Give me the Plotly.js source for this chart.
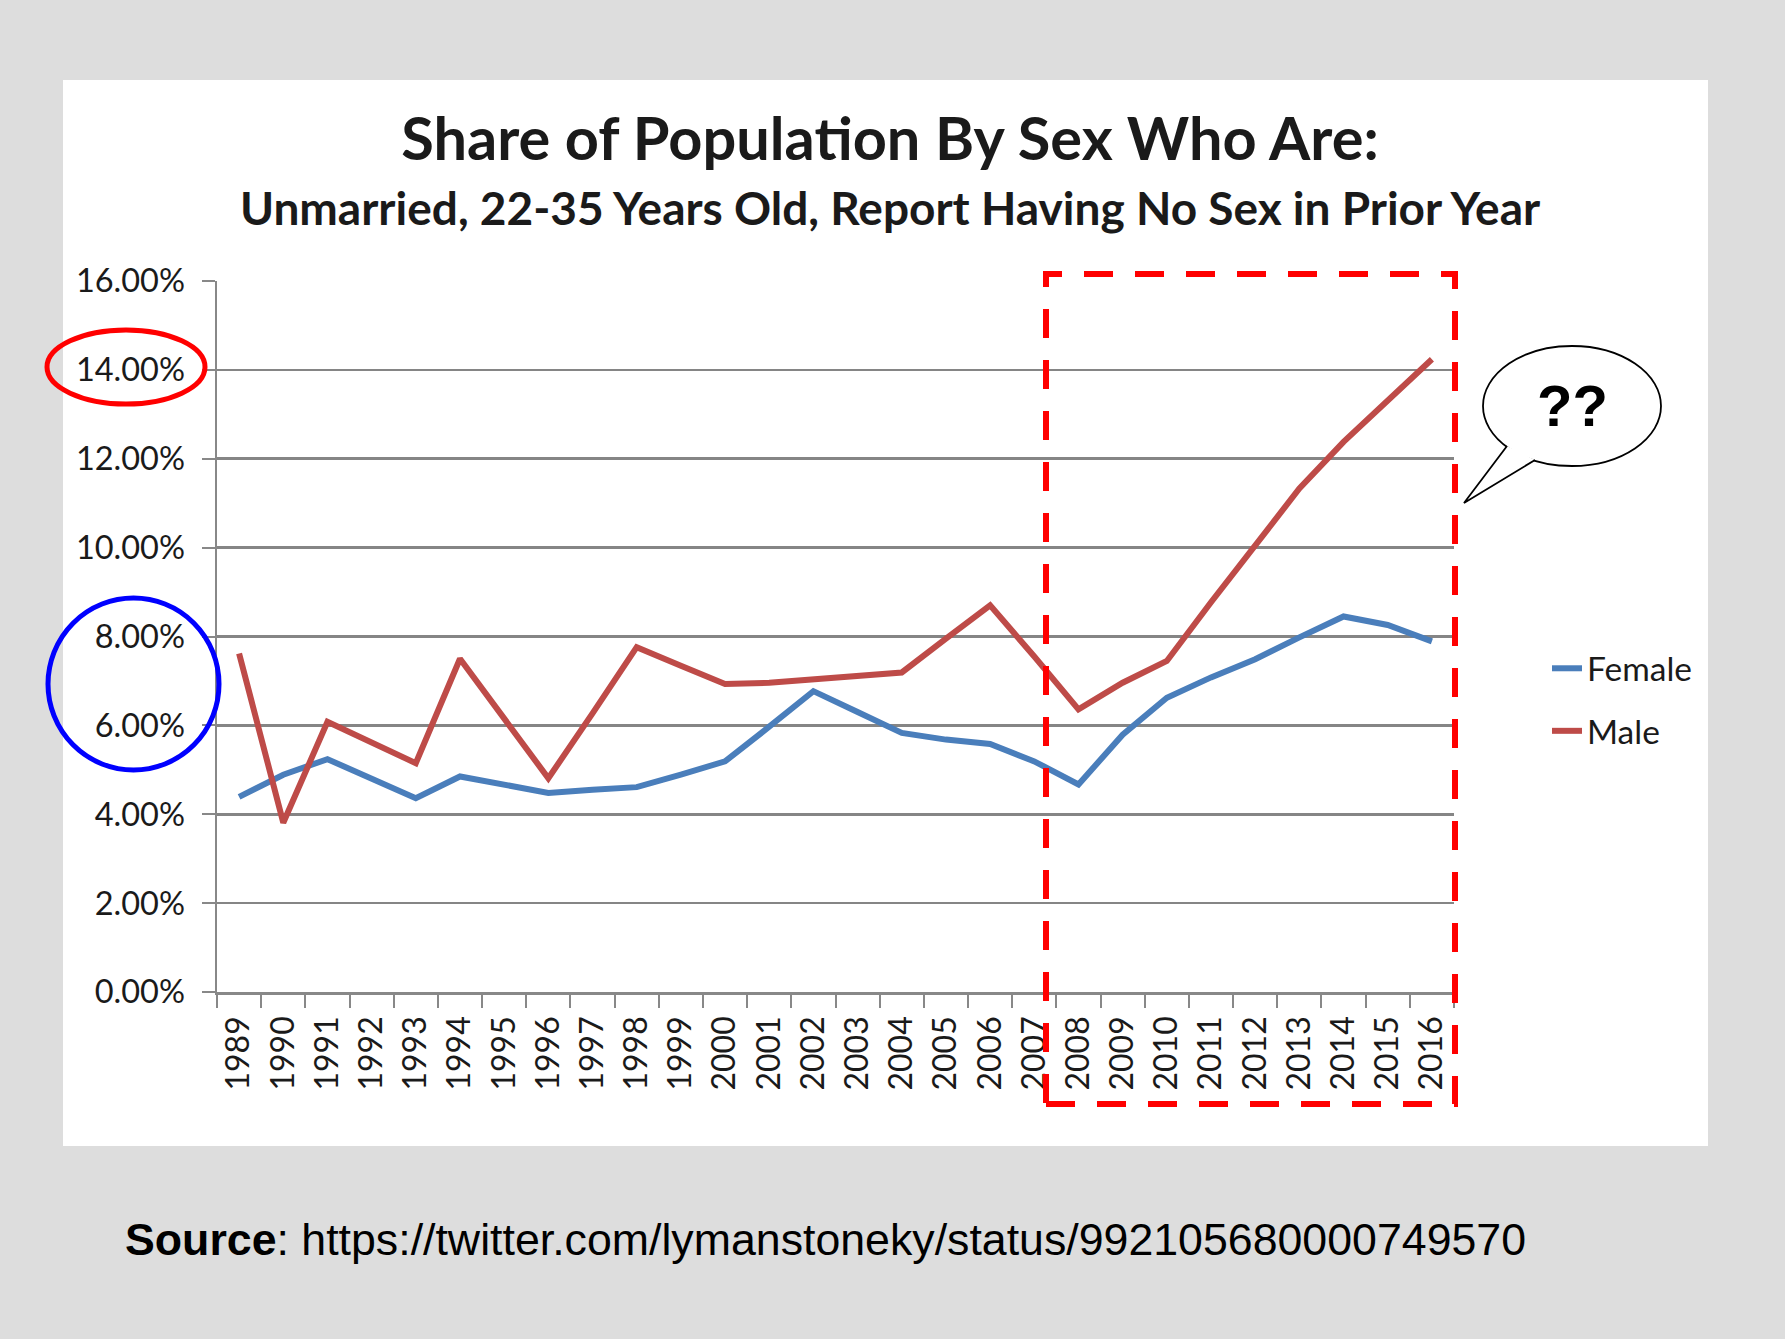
<!DOCTYPE html>
<html>
<head>
<meta charset="utf-8">
<script src="https://cdn.plot.ly/plotly-3.0.1.min.js"></script>
<style>html,body{margin:0;padding:0;background:#dddddd;}#chart{width:1785px;height:1339px;}</style>
</head>
<body>
<div id="chart"></div>
<script>
const years = ['1989','1990','1991','1992','1993','1994','1995','1996','1997','1998','1999','2000','2001','2002','2003','2004','2005','2006','2007','2008','2009','2010','2011','2012','2013','2014','2015','2016'];
const female = [4.39,4.89,5.24,4.81,4.36,4.85,4.67,4.48,4.55,4.61,4.89,5.19,5.97,6.77,6.30,5.83,5.68,5.58,5.19,4.67,5.79,6.62,7.08,7.49,7.98,8.45,8.26,7.89];
const male = [7.62,3.81,6.08,5.63,5.15,7.50,6.15,4.81,6.27,7.76,7.34,6.93,6.96,7.04,7.11,7.19,7.95,8.70,7.55,6.36,6.96,7.45,8.77,10.04,11.33,12.38,13.30,14.24];
const yTicks = [0,2,4,6,8,10,12,14,16];
const yTickText = ['0.00%','2.00%','4.00%','6.00%','8.00%','10.00%','12.00%','14.00%','16.00%'];

const W = 1785, H = 1339;
const M = {l:217, r:331, t:281, b:347};
const pw = W - M.l - M.r, ph = H - M.t - M.b;
const px = x => (x - M.l) / pw;
const py = y => (H - M.b - y) / ph;

const traces = [
  {x: years, y: female, type:'scatter', mode:'lines', name:'Female', legendgroup:'f',
   line:{color:'#4a7ebb', width:6}},
  {x: years, y: male, type:'scatter', mode:'lines', name:'Male', legendgroup:'m',
   line:{color:'#be4b48', width:6}}
];

const bubblePath = 'M ' + px(1507) + ',' + py(446) + ' L ' + px(1464) + ',' + py(503) + ' L ' + px(1535) + ',' + py(460);

const layout = {
  width: W, height: H,
  margin: M,
  paper_bgcolor: '#dddddd',
  plot_bgcolor: 'rgba(0,0,0,0)',
  font: {family: 'Lato, sans-serif', color: '#1a1a1a'},
  showlegend: true,
  legend: {x: px(1547), y: py(700), xanchor:'left', yanchor:'middle', traceorder:'grouped', tracegroupgap: 16,
           font:{size: 33.5, family:'Lato', color:'#1a1a1a'}, bgcolor:'rgba(0,0,0,0)'},
  xaxis: {type:'category', range:[-0.5, 27.5], tickson:'boundaries', ticks:'outside', ticklen:13, tickwidth:2,
          tickcolor:'#888888', showline:true, linecolor:'#888888', linewidth:2.5, showgrid:false,
          tickangle:-90, tickfont:{size:32, family:'Lato', color:'#1a1a1a'}, ticklabelstandoff: 9},
  yaxis: {range:[0,16], tickvals: yTicks, ticktext: yTickText, ticks:'outside', ticklen:13, tickwidth:2,
          tickcolor:'#888888', showline:true, linecolor:'#888888', linewidth:2.5, showgrid:true,
          gridcolor:'#858585', gridwidth:2.6, zeroline:false,
          tickfont:{size:32.5, family:'Lato', color:'#1a1a1a'}, ticklabelstandoff: 10},
  title: {text:'Share of Population By Sex Who Are:', x: 890/W, xref:'container', xanchor:'center',
          y: 1 - 139/H, yref:'container', yanchor:'middle', font:{size:59.5, family:'Lato', weight:700, color:'#1a1a1a'}},
  annotations: [
    {text:'<b>Unmarried, 22-35 Years Old, Report Having No Sex in Prior Year</b>', xref:'paper', yref:'paper',
     x: px(890), y: py(207), xanchor:'center', yanchor:'middle', showarrow:false,
     font:{size:46, family:'Lato', color:'#1a1a1a'}},
    {text:'<b>??</b>', xref:'paper', yref:'paper', x: px(1572), y: py(405), xanchor:'center', yanchor:'middle',
     showarrow:false, font:{size:58, family:'Liberation Sans, Arial', color:'#000000'}},
    {text:'<b>Source</b>: https://twitter.com/lymanstoneky/status/992105680000749570', xref:'paper', yref:'paper',
     x: px(123), y: py(1239), xanchor:'left', yanchor:'middle', showarrow:false,
     font:{size:44.7, family:'Liberation Sans, Arial', color:'#000000'}}
  ],
  shapes: [
    {type:'rect', xref:'paper', yref:'paper', x0: px(63), x1: px(1708), y0: py(1146), y1: py(80),
     fillcolor:'#ffffff', line:{width:0}, layer:'below'},
    {type:'rect', xref:'paper', yref:'paper', x0: px(1046), x1: px(1455), y0: py(1104), y1: py(274),
     line:{color:'#ff0000', width:6, dash:'29px,22px'}, fillcolor:'rgba(0,0,0,0)'},
    {type:'circle', xref:'paper', yref:'paper', x0: px(1483), x1: px(1661), y0: py(466), y1: py(346),
     fillcolor:'#ffffff', line:{color:'#000000', width:1.8}},
    {type:'path', xref:'paper', yref:'paper', path: bubblePath, fillcolor:'#ffffff', line:{color:'#000000', width:1.8}},
    {type:'circle', xref:'paper', yref:'paper', x0: px(48), x1: px(219), y0: py(770), y1: py(598),
     line:{color:'#0000ff', width:5}, fillcolor:'rgba(0,0,0,0)'},
    {type:'circle', xref:'paper', yref:'paper', x0: px(47), x1: px(205), y0: py(404), y1: py(330),
     line:{color:'#ff0000', width:5}, fillcolor:'rgba(0,0,0,0)'}
  ]
};

Plotly.newPlot('chart', traces, layout, {displayModeBar:false, staticPlot:true});
</script>
</body>
</html>
